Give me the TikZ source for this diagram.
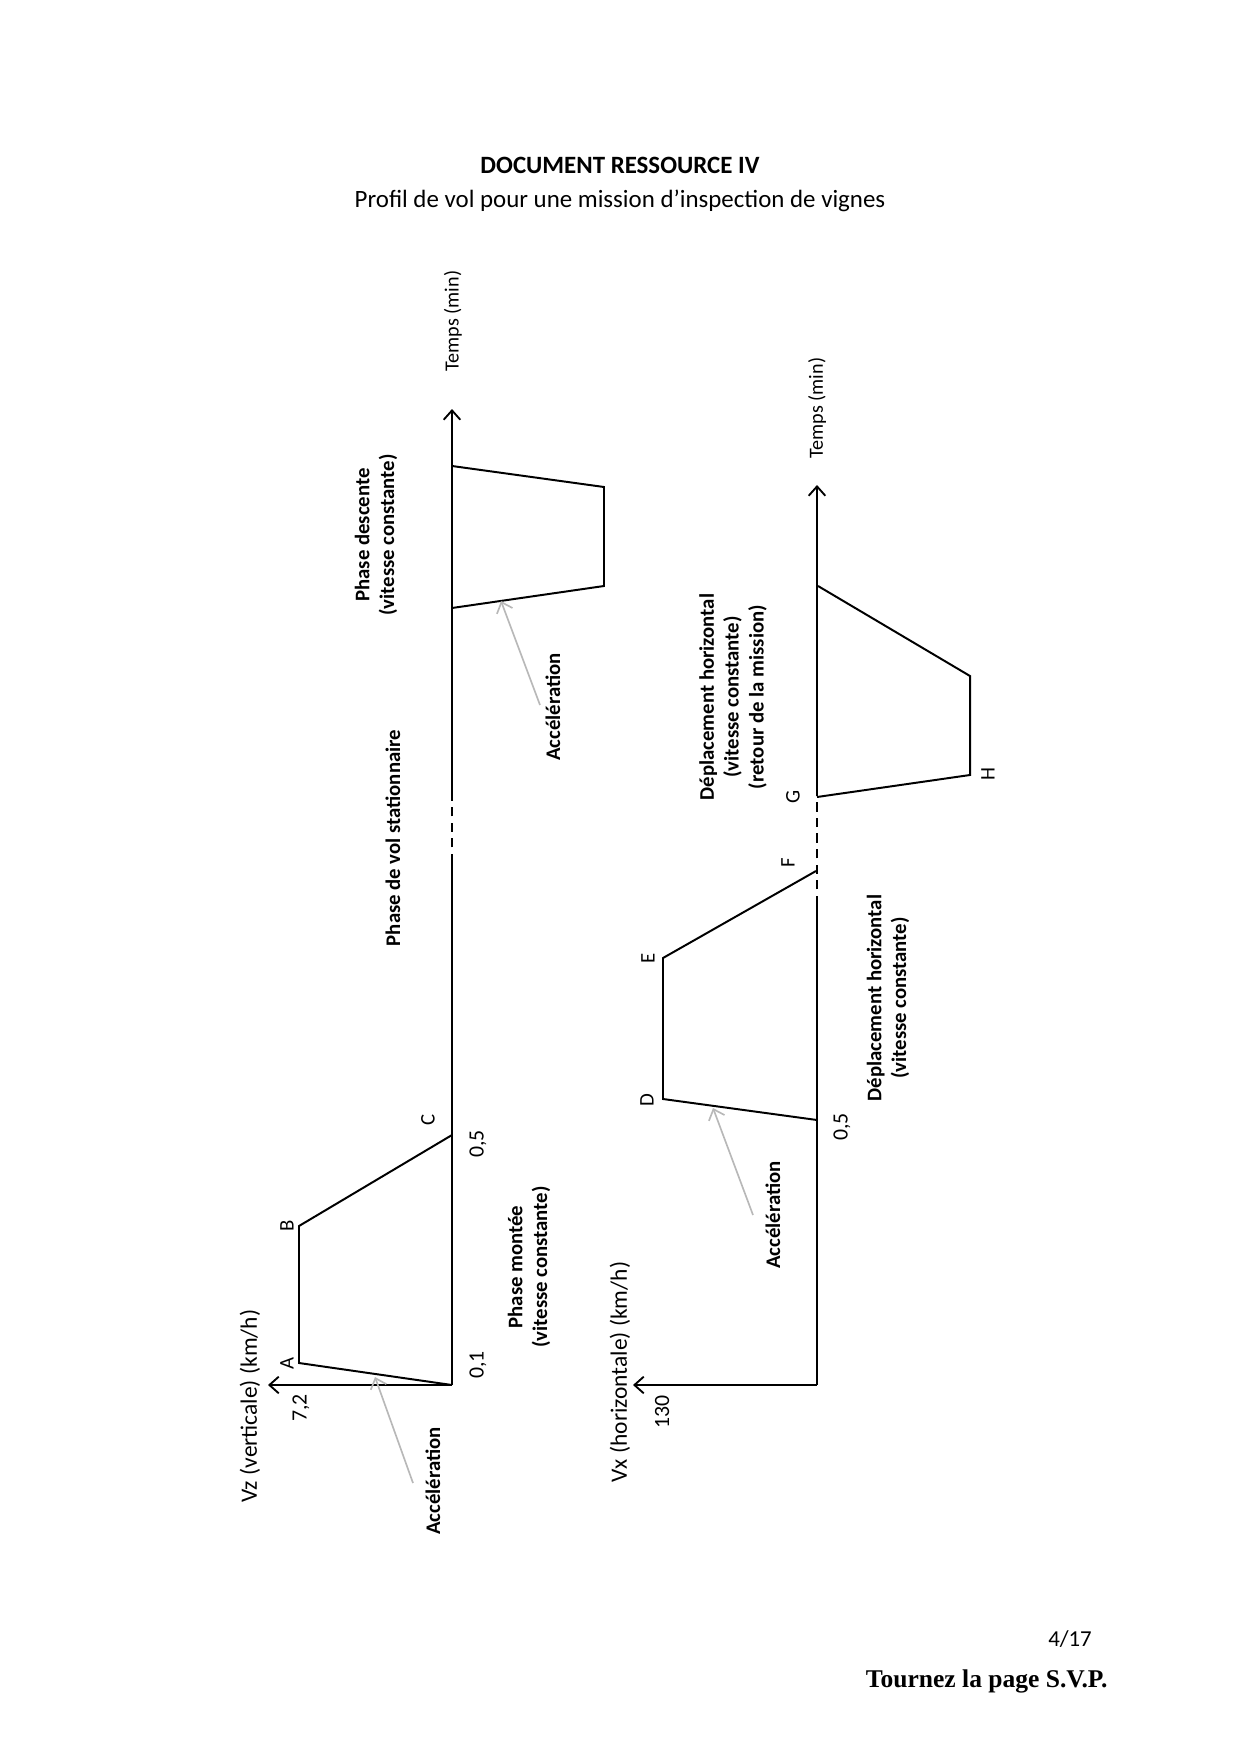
\documentclass[tikz,border=0pt]{standalone}
\usepackage{fontspec}
\setmainfont{Carlito}
\newfontfamily\footserif{Liberation Serif}
\usetikzlibrary{arrows.meta}
\begin{document}
\begin{tikzpicture}[x=0.4818pt,y=-0.4818pt,
  axisline/.style={line width=1.1pt},
  axisarrow/.style={line width=1.1pt,-{Straight Barb[length=4.5pt,width=8pt,line width=0.9pt]}},
  axisdash/.style={line width=1.1pt,dash pattern=on 4.5pt off 3pt},
  profile/.style={line width=0.95pt,line join=miter},
  accarrow/.style={draw=black!28,line width=0.8pt,-{Straight Barb[length=4.5pt,width=8pt,line width=0.8pt]}},
  lbl/.style={rotate=90,inner sep=0pt,font=\fontsize{10.5}{12}\selectfont},
  ptlbl/.style={rotate=90,inner sep=0pt,font=\fontsize{10}{11}\selectfont},
  blbl/.style={rotate=90,inner sep=0pt,align=center,font=\bfseries\fontsize{10}{12}\selectfont},
  axlbl/.style={rotate=90,inner sep=0pt,font=\fontsize{11.3}{13}\selectfont},
  timelbl/.style={rotate=90,inner sep=0pt,font=\fontsize{9.7}{11}\selectfont}]
\useasboundingbox (0,0) rectangle (1240,1754);

% titles
\node[inner sep=0pt,font=\bfseries\fontsize{12}{14}\selectfont] (title) at (620,165) {DOCUMENT RESSOURCE IV};
\node[inner sep=0pt,font=\fontsize{12}{14}\selectfont] (subtitle) at (620,201) {Profil de vol pour une mission d’inspection de vignes};

% ================= upper chart (Vz) =================
\coordinate (O1) at (452,1385);
\coordinate (T1) at (452,409);
\coordinate (D1a) at (452,863);
\coordinate (D1b) at (452,793);
\coordinate (VZ) at (268,1385);
\coordinate (A) at (299,1363);
\coordinate (B) at (299,1226);
\coordinate (C) at (452,1135);
\coordinate (U1) at (452,608);
\coordinate (U2) at (604,586);
\coordinate (U3) at (604,487);
\coordinate (U4) at (452,466);

\draw[axisline] (O1) -- (D1a);
\draw[axisdash] (D1a) -- (D1b);
\draw[axisarrow] (D1b) -- (T1);
\draw[axisarrow] (O1) -- (VZ);
\draw[profile] (O1) -- (A) -- (B) -- (C);
\draw[profile] (U1) -- (U2) -- (U3) -- (U4);

\coordinate (acc1tail) at (413,1483);
\coordinate (acc1tip) at (375,1377);
\draw[accarrow] (acc1tail) -- (acc1tip);
\coordinate (acc2tail) at (540,705);
\coordinate (acc2tip) at (501,601);
\draw[accarrow] (acc2tail) -- (acc2tip);

\node[timelbl] (temps1) at (453,321) {Temps (min)};
\node[axlbl] (vzlbl) at (250,1406) {Vz (verticale) (km/h)};
\node[lbl] (v72) at (301,1408) {7,2};
\node[ptlbl] (lA) at (287,1363) {A};
\node[ptlbl] (lB) at (287,1226) {B};
\node[ptlbl] (lC) at (428,1120) {C};
\node[lbl] (t01) at (478,1365) {0,1};
\node[lbl] (t05a) at (478,1144) {0,5};
\node[blbl] (acclbl1) at (433,1481) {Accélération};
\node[blbl] (montee) at (529,1267) {Phase montée\\(vitesse constante)};
\node[blbl] (station) at (393,838) {Phase de vol stationnaire};
\node[blbl] (descente) at (376,535) {Phase descente\\(vitesse constante)};
\node[blbl] (acclbl2) at (553,707) {Accélération};

% ================= lower chart (Vx) =================
\coordinate (O2) at (817,1385);
\coordinate (T2) at (817,485);
\coordinate (D2a) at (817,905);
\coordinate (D2b) at (817,790);
\coordinate (VX) at (633,1385);
\coordinate (P05) at (817,1120);
\coordinate (D) at (663,1099);
\coordinate (E) at (663,958);
\coordinate (F) at (816,871);
\coordinate (G) at (817,797);
\coordinate (H) at (970,775);
\coordinate (H2) at (970,676);
\coordinate (R) at (818,586);

\draw[axisline] (O2) -- (D2a);
\draw[axisdash] (D2a) -- (D2b);
\draw[axisarrow] (D2b) -- (T2);
\draw[axisarrow] (O2) -- (VX);
\draw[profile] (P05) -- (D) -- (E) -- (F);
\draw[profile] (G) -- (H) -- (H2) -- (R);

\coordinate (acc3tail) at (753,1215);
\coordinate (acc3tip) at (713,1108);
\draw[accarrow] (acc3tail) -- (acc3tip);

\node[timelbl] (temps2) at (817,408) {Temps (min)};
\node[axlbl] (vxlbl) at (620,1372) {Vx (horizontale) (km/h)};
\node[lbl] (v130) at (662,1412) {130};
\node[ptlbl] (lD) at (647,1100) {D};
\node[ptlbl] (lE) at (648,958) {E};
\node[ptlbl] (lF) at (788,863) {F};
\node[ptlbl] (lG) at (793,797) {G};
\node[ptlbl] (lH) at (988,774) {H};
\node[lbl] (t05b) at (842,1127) {0,5};
\node[blbl] (acclbl3) at (773,1215) {Accélération};
\node[blbl] (deplA) at (888,998) {Déplacement horizontal\\(vitesse constante)};
\node[blbl] (deplB) at (733,697) {Déplacement horizontal\\(vitesse constante)\\(retour de la mission)};

% footer
\node[inner sep=0pt,font=\fontsize{11}{13}\selectfont] (page) at (1070,1639) {4/17};
\node[inner sep=0pt,anchor=east,font=\footserif\bfseries\fontsize{12.3}{14}\selectfont] (tourner) at (1108,1681) {Tournez la page S.V.P.};
\end{tikzpicture}
\end{document}
